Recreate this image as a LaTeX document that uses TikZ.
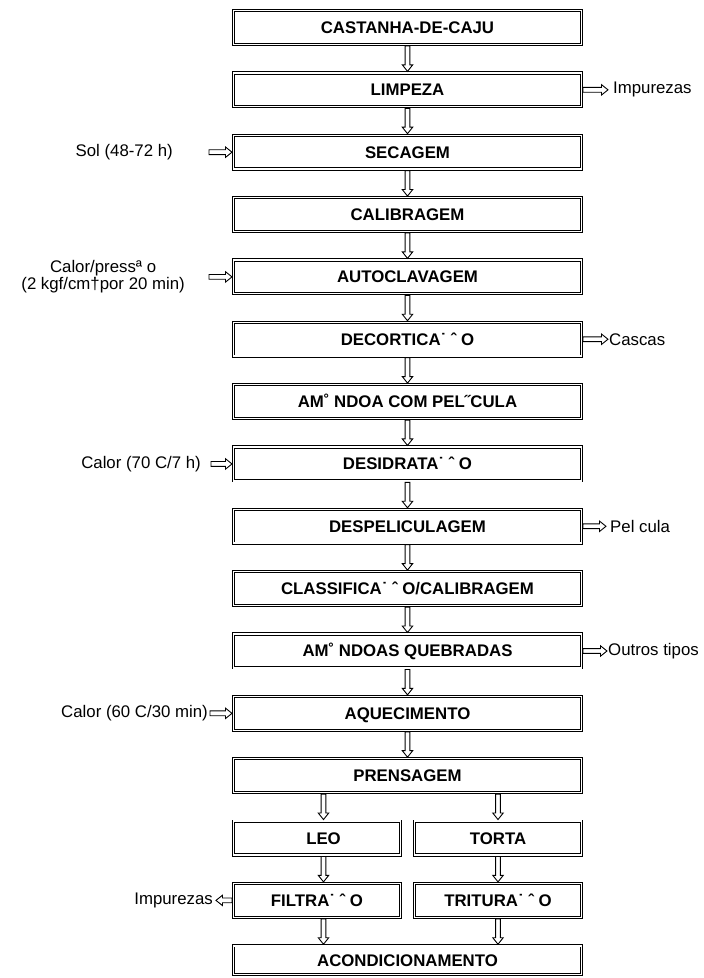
\documentclass[tikz,border=0pt]{standalone}
\usepackage{fontspec}
\setmainfont{Liberation Sans}
\usetikzlibrary{positioning,calc}

\begin{document}
\begin{tikzpicture}[x=1pt, y=1pt, node distance=25.35pt,
    stage/.style={draw, double, double distance=1.4pt, line width=0.9pt, outer sep=1.6pt, inner sep=0pt,
        minimum width=347.8pt, minimum height=33.8pt, text height=12pt, text depth=0pt,
        font=\fontsize{16.8}{18}\selectfont\bfseries},
    half/.style={stage, minimum width=166.8pt},
    note/.style={inner sep=0pt, align=center, font=\fontsize{16.8}{17.5}\selectfont},
    flow/.style={draw, line width=0.9pt, line join=miter, to path={
        ($(\tikztostart)!2.4pt!90:(\tikztotarget)$)
        -- ($($(\tikztotarget)!6.5pt!(\tikztostart)$)!2.4pt!90:(\tikztotarget)$)
        -- ($($(\tikztotarget)!6.5pt!(\tikztostart)$)!5.2pt!90:(\tikztotarget)$)
        -- (\tikztotarget)
        -- ($($(\tikztotarget)!6.5pt!(\tikztostart)$)!5.2pt!-90:(\tikztotarget)$)
        -- ($($(\tikztotarget)!6.5pt!(\tikztostart)$)!2.4pt!-90:(\tikztotarget)$)
        -- ($(\tikztostart)!2.4pt!-90:(\tikztotarget)$) -- cycle}},
]
\useasboundingbox (0,0) rectangle (704,978);

% Main line
\node[stage] (cast) at (407.5,950.5) {CASTANHA-DE-CAJU};
\node[stage, below=of cast] (limp) {LIMPEZA};
\node[stage, below=of limp] (secag) {SECAGEM};
\node[stage, below=of secag] (calib) {CALIBRAGEM};
\node[stage, below=of calib] (autoc) {AUTOCLAVAGEM};
\node[stage, below=of autoc] (decort) {DECORTICA˙ ˆ O};
\node[stage, below=of decort] (amend) {AM˚ NDOA COM PEL˝CULA};
\node[stage, below=of amend] (desid) {DESIDRATA˙ ˆ O};
\node[stage, below=of desid] (despel) {DESPELICULAGEM};
\node[stage, below=of despel] (classif) {CLASSIFICA˙ ˆ O/CALIBRAGEM};
\node[stage, below=of classif] (quebr) {AM˚ NDOAS QUEBRADAS};
\node[stage, below=of quebr] (aquec) {AQUECIMENTO};
\node[stage, below=of aquec] (prens) {PRENSAGEM};

% Two branches
\node[half, below=of prens.south west, anchor=north west] (oleo) {\hphantom{Ó}LEO};
\node[half, below=of prens.south east, anchor=north east] (torta) {TORTA};
\node[half, below=of oleo] (filtra) {FILTRA˙ ˆ O};
\node[half, below=of torta] (tritura) {TRITURA˙ ˆ O};
\node[stage, minimum height=28.8pt, below=of filtra.south west, anchor=north west] (acond) {ACONDICIONAMENTO};

% Inputs (left)
\coordinate (solin) at ([xshift=-23pt]secag.west);
\coordinate (autin) at ([xshift=-23pt]autoc.west);
\coordinate (desin) at ([xshift=-21pt]desid.west);
\coordinate (aquin) at ([xshift=-22pt]aquec.west);
\node[note, left=36pt of solin] (sol) {Sol (48-72 h)};
\node[note, left=24pt of autin] (press) {Calor/pressª o\\(2 kgf/cm†por 20 min)};
\node[note, left=10pt of desin] (cal70) {Calor (70 C/7 h)};
\node[note, left=2pt of aquin] (cal60) {Calor (60 C/30 min)};

% Outputs
\coordinate (limpout) at ([xshift=25pt]limp.east);
\coordinate (decout) at ([xshift=25pt]decort.east);
\coordinate (despout) at ([xshift=23pt]despel.east);
\coordinate (quebout) at ([xshift=24pt]quebr.east);
\coordinate (filtout) at ([xshift=-16pt]filtra.west);
\node[note, right=5pt of limpout, anchor=west] (imp1) {Impurezas};
\node[note, right=1pt of decout, anchor=west] (cascas) {Cascas};
\node[note, right=4pt of despout, anchor=west] (pel) {Pel cula};
\node[note, right=1pt of quebout, anchor=west] (outros) {Outros tipos};
\node[note, left=3pt of filtout] (imp2) {Impurezas};

% Arrows
\draw[flow] (cast.south) to (limp.north);
\draw[flow] (limp.south) to (secag.north);
\draw[flow] (secag.south) to (calib.north);
\draw[flow] (calib.south) to (autoc.north);
\draw[flow] (autoc.south) to (decort.north);
\draw[flow] (decort.south) to (amend.north);
\draw[flow] (amend.south) to (desid.north);
\draw[flow] (desid.south) to (despel.north);
\draw[flow] (despel.south) to (classif.north);
\draw[flow] (classif.south) to (quebr.north);
\draw[flow] (quebr.south) to (aquec.north);
\draw[flow] (aquec.south) to (prens.north);
\draw[flow] ($(oleo.north |- prens.south)+(6.5,0)$) to ($(oleo.north)+(6.5,0)$);
\draw[flow] (torta.north |- prens.south) to (torta.north);
\draw[flow] ($(oleo.south)+(6.5,0)$) to ($(filtra.north)+(6.5,0)$);
\draw[flow] (torta.south) to (tritura.north);
\draw[flow] ($(filtra.south)+(6.5,0)$) to ($(filtra.south |- acond.north)+(6.5,0)$);
\draw[flow] (tritura.south) to (tritura.south |- acond.north);

\draw[flow] (solin) to (secag.west);
\draw[flow] (autin) to (autoc.west);
\draw[flow] (desin) to (desid.west);
\draw[flow] (aquin) to (aquec.west);
\draw[flow] (limp.east) to (limpout);
\draw[flow] (decort.east) to (decout);
\draw[flow] (despel.east) to (despout);
\draw[flow] (quebr.east) to (quebout);
\draw[flow] (filtra.west) to (filtout);

\end{tikzpicture}
\end{document}
